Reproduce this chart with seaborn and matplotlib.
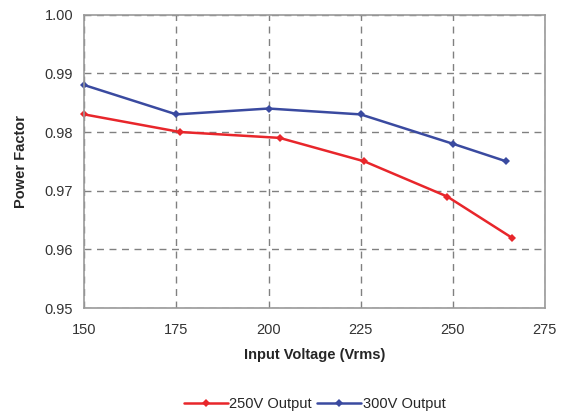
import matplotlib
matplotlib.use("Agg")
import matplotlib.pyplot as plt
import pandas as pd
import seaborn as sns

# values
volts_250 = [150, 176, 203, 226, 248.5, 266]
pf_250 = [0.983, 0.980, 0.979, 0.975, 0.969, 0.962]
volts_300 = [150, 175, 200, 225, 250, 264.5]
pf_300 = [0.988, 0.983, 0.984, 0.983, 0.978, 0.975]
x_ticks = [150, 175, 200, 225, 250, 275]
y_ticks = [0.95, 0.96, 0.97, 0.98, 0.99, 1.00]

df = pd.concat([
    pd.DataFrame({'voltage': volts_250, 'pf': pf_250, 'series': '250V Output'}),
    pd.DataFrame({'voltage': volts_300, 'pf': pf_300, 'series': '300V Output'}),
])

sns.set_style("white")
plt.rcParams['font.family'] = ['Liberation Sans', 'DejaVu Sans']

fig = plt.figure(figsize=(5.73, 4.18), dpi=100)
ax = fig.add_axes([0.147, 0.263, 0.804, 0.702])

pal = {'250V Output': '#e8262b', '300V Output': '#3a4aa0'}
sns.lineplot(data=df, x='voltage', y='pf', hue='series', palette=pal,
             marker='D', markersize=4, markeredgewidth=0, linewidth=1.8,
             ax=ax, sort=False, clip_on=False)

ax.set_xlim(150, 275)
ax.set_ylim(0.95, 1.00)
ax.set_xticks(x_ticks)
ax.set_yticks(y_ticks)
ax.set_yticklabels([f"{v:.2f}" for v in y_ticks])
ax.grid(True, linestyle=(0, (5, 4)), color='#808080', linewidth=1.0)
for s in ax.spines.values():
    s.set_color('#9a9a9a')
    s.set_linewidth(1.2)
ax.tick_params(axis='both', length=0, labelsize=10.5, colors='#333333')
ax.tick_params(axis='x', pad=11)
ax.tick_params(axis='y', pad=8)

ax.set_xlabel('Input Voltage (Vrms)', fontsize=10.5, fontweight='bold', labelpad=8)
ax.set_ylabel('Power Factor', fontsize=10.5, fontweight='bold', labelpad=12)

ax.legend(loc='upper center', bbox_to_anchor=(0.5, -0.26), ncol=2, frameon=False,
          fontsize=10.5, handlelength=3.0, handletextpad=0.1, columnspacing=0.4)

fig.savefig('out.png', dpi=100, facecolor='white')
